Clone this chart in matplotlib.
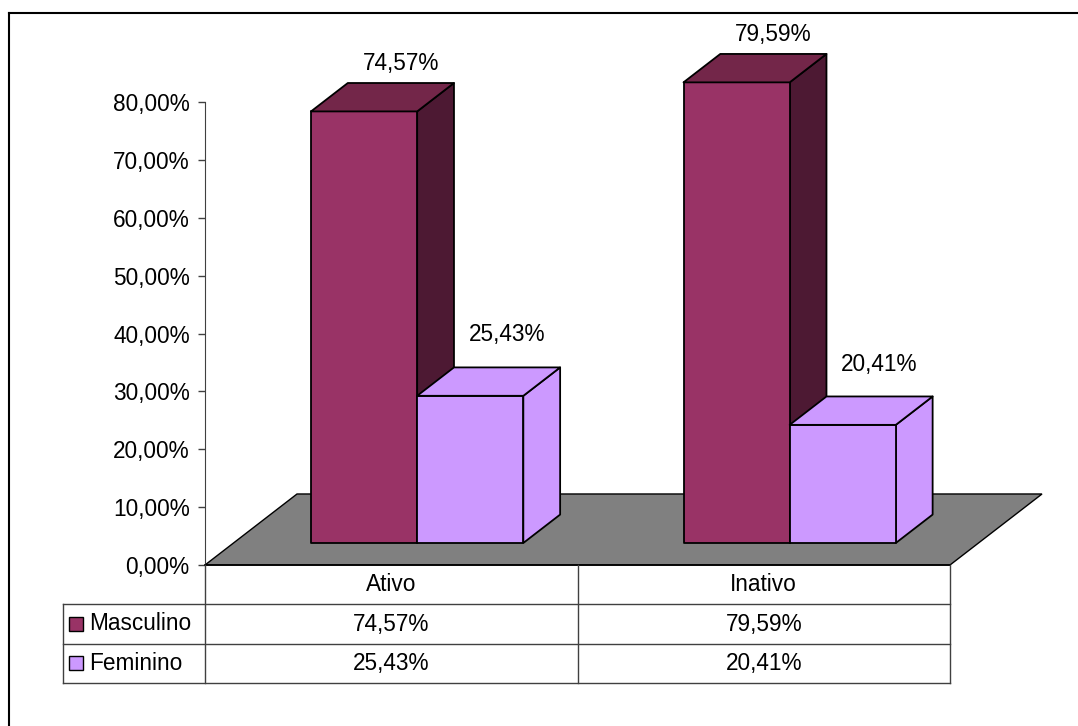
import matplotlib
matplotlib.use('Agg')
import matplotlib.pyplot as plt
from matplotlib.patches import Polygon
from matplotlib.lines import Line2D

plt.rcParams['font.family'] = ['Liberation Sans', 'DejaVu Sans']
plt.rcParams['font.size'] = 16.3

categories = ['Ativo', 'Inativo']
series = ['Masculino', 'Feminino']
masculino = [74.57, 79.59]
feminino = [25.43, 20.41]
y_ticks = [0, 10, 20, 30, 40, 50, 60, 70, 80]

values = [masculino, feminino]
front_colors = ['#993366', '#cc99ff']
top_colors = ['#732649', '#cc99ff']
side_colors = ['#4d1933', '#cc99ff']
label_gap = [3.3, 5.6]


def pct(v):
    return f'{v:.2f}%'.replace('.', ',')


W, H = 1078, 726
fig = plt.figure(figsize=(W / 100, H / 100), dpi=100)

# plot area: floor front edge 205..950 px, 0% at 565 px, 80% at 102 px
ax = fig.add_axes([205 / W, 1 - 565 / H, 745 / W, 463 / H])
ax.set_xlim(0, len(categories))
ax.set_ylim(0, 80)
ax.patch.set_visible(False)
for s in ['top', 'right', 'bottom']:
    ax.spines[s].set_visible(False)
ax.spines['left'].set_color('#404040')
ax.set_xticks([])
ax.set_yticks(y_ticks)
ax.set_yticklabels([pct(t) for t in y_ticks])
ax.tick_params(axis='y', direction='out', length=5, width=1, color='#404040', pad=6)

# 3d depth offset (category units, percent units)
DX, DY = 0.247, 12.27
f0, f1 = 0.31, 0.71
bw = 0.285
mid = 0.493

floor = Polygon([(0, 0), (2, 0), (2 + DX, DY), (DX, DY)], closed=True,
                facecolor='#808080', edgecolor='black', lw=1, clip_on=False, zorder=1)
ax.add_patch(floor)

for i in range(len(categories)):
    for j in range(len(series)):
        v = values[j][i]
        x0 = i + mid - bw + j * bw
        x1 = x0 + bw
        a, b = f0 * DX, f0 * DY
        c, d = f1 * DX, f1 * DY
        front = [(x0 + a, b), (x1 + a, b), (x1 + a, v + b), (x0 + a, v + b)]
        top = [(x0 + a, v + b), (x1 + a, v + b), (x1 + c, v + d), (x0 + c, v + d)]
        side = [(x1 + a, b), (x1 + c, d), (x1 + c, v + d), (x1 + a, v + b)]
        z = 2 + j
        for pts, col in [(side, side_colors[j]), (front, front_colors[j]), (top, top_colors[j])]:
            ax.add_patch(Polygon(pts, closed=True, facecolor=col, edgecolor='black',
                                 lw=1.3, joinstyle='round', clip_on=False, zorder=z))
        ax.text((x0 + x1) / 2 + c, v + d + label_gap[j], pct(v), ha='center', va='center',
                clip_on=False, zorder=5)

# data table under the plot
tab = fig.add_axes([205 / W, 1 - 683 / H, 745 / W, 118 / H])
tab.set_xlim(0, len(categories))
tab.set_ylim(3, 0)
tab.axis('off')
left = -0.381
lc = '#404040'
tab.plot([0, 2], [0, 0], color='black', lw=1.2, clip_on=False)
for yy in [1, 2, 3]:
    tab.plot([left, 2], [yy, yy], color=lc, lw=1, clip_on=False)
tab.plot([left, left], [1, 3], color=lc, lw=1, clip_on=False)
for xx in [0, 1, 2]:
    tab.plot([xx, xx], [0, 3], color=lc, lw=1, clip_on=False)

for i, cat in enumerate(categories):
    tab.text(i + 0.5, 0.5, cat, ha='center', va='center')
    for j in range(len(series)):
        tab.text(i + 0.5, j + 1.5, pct(values[j][i]), ha='center', va='center')

for j, name in enumerate(series):
    tab.plot([-0.346], [j + 1.5], marker='s', markersize=9.5, color=front_colors[j],
             markeredgecolor='black', markeredgewidth=1, clip_on=False)
    tab.text(-0.312, j + 1.5, name, ha='left', va='center')

# chart area border (cropped at right and bottom)
fig.add_artist(Line2D([9 / W, 9 / W], [0, 1 - 13 / H], color='black', lw=1.5))
fig.add_artist(Line2D([9 / W, 1], [1 - 13 / H, 1 - 13 / H], color='black', lw=1.5))

fig.savefig('out.png', dpi=100)
